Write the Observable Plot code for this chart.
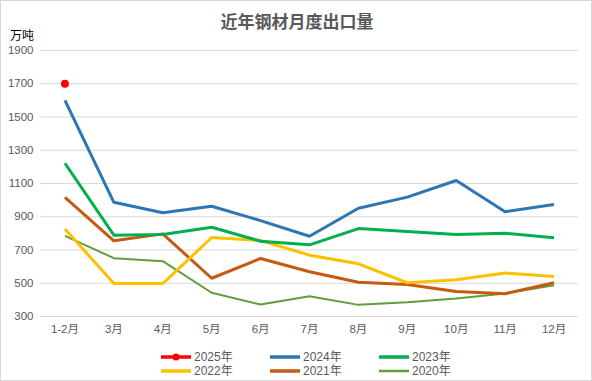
<!DOCTYPE html>
<html><head><meta charset="utf-8">
<script src="https://cdn.jsdelivr.net/npm/d3@7"></script>
<script src="https://cdn.jsdelivr.net/npm/@observablehq/plot@0.6"></script>
<style>
body{margin:0;background:#fff;font-family:"Noto Sans CJK SC","Noto Sans",sans-serif;}
#wrap{position:relative;width:592px;height:381px;box-sizing:border-box;border:1px solid #d9d9d9;overflow:hidden;}
#wrap > svg{position:absolute;left:-1px;top:-1px;max-width:none !important;}
.title{position:absolute;left:0;width:592px;top:11px;line-height:1;text-align:center;font-size:17px;font-weight:bold;color:#595959;}
.unit{position:absolute;left:9px;top:28px;line-height:1;font-size:12px;color:#000;}
.leg{position:absolute;font-family:"Liberation Sans","Noto Sans CJK SC",sans-serif;font-size:12px;line-height:12px;color:#595959;display:flex;align-items:center;height:12px;}
.leg svg{margin-right:3px;}
</style></head>
<body>
<div id="wrap"></div>
<script>
const months = ["1-2月","3月","4月","5月","6月","7月","8月","9月","10月","11月","12月"];
const yTicks = [300,500,700,900,1100,1300,1500,1700,1900];
const years = ["2025年","2024年","2023年","2022年","2021年","2020年"];
const colors = ["#ff0000","#2e75b6","#00b050","#ffc000","#c55a11","#5f9e3a"];
const widths = [3,3,3,3,3,2];
const v2025 = [1700];
const v2024 = [1600,987,924,963,877,783,951,1018,1118,930,974];
const v2023 = [1222,789,793,837,753,731,829,811,793,801,773];
const v2022 = [827,498,498,775,757,669,617,503,521,561,541];
const v2021 = [1016,755,797,530,649,569,506,492,450,437,503];
const v2020 = [785,651,633,443,372,422,370,385,408,438,488];
const series = [v2025,v2024,v2023,v2022,v2021,v2020];

const rows = [];
series.forEach((vals,i)=>vals.forEach((v,j)=>rows.push({year:years[i],month:months[j],value:v})));

const marks = [
  Plot.ruleY(yTicks,{stroke:"#d9d9d9",strokeWidth:1}),
];
for (let i = series.length-1; i >= 1; i--) {
  marks.push(Plot.line(rows.filter(d=>d.year===years[i]),{x:"month",y:"value",stroke:colors[i],strokeWidth:widths[i],strokeLinejoin:"round",strokeLinecap:"butt"}));
}
marks.push(Plot.dot(rows.filter(d=>d.year===years[0]),{x:"month",y:"value",fill:colors[0],r:4}));

const chart = Plot.plot({
  width:592,height:381,
  marginTop:50,marginBottom:65,marginLeft:40,marginRight:14,
  style:{fontFamily:"'Liberation Sans','Noto Sans CJK SC',sans-serif",fontSize:"11.5px",color:"#595959",background:"transparent"},
  x:{type:"point",domain:months,padding:0.5,round:false,label:null,tickSize:0,tickPadding:8},
  y:{domain:[300,1900],ticks:yTicks,tickFormat:"d",label:null,tickSize:0,tickPadding:7},
  marks
});
const wrap = document.getElementById("wrap");
wrap.appendChild(chart);
const t = document.createElement("div"); t.className="title"; t.textContent="近年钢材月度出口量"; wrap.appendChild(t);
const u = document.createElement("div"); u.className="unit"; u.textContent="万吨"; wrap.appendChild(u);
const cols=[160,269,378], rowsY=[350,364];
years.forEach((y,i)=>{
  const d=document.createElement("div"); d.className="leg";
  d.style.left=cols[i%3]+"px"; d.style.top=rowsY[Math.floor(i/3)]+"px";
  let sw=`<svg width="30" height="10"><line x1="0" y1="5" x2="30" y2="5" stroke="${colors[i]}" stroke-width="${widths[i]+0.5}"/>`;
  if(i===0) sw+=`<circle cx="15" cy="5" r="3.5" fill="${colors[i]}"/>`;
  sw+=`</svg>`;
  d.innerHTML=sw+`<span>${y}</span>`;
  wrap.appendChild(d);
});
</script>
</body></html>
